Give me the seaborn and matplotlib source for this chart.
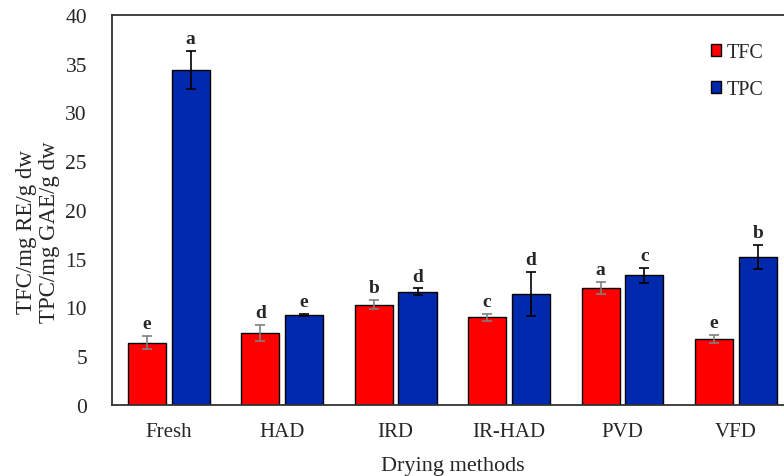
import numpy as np
import matplotlib
matplotlib.use("Agg")
import matplotlib.pyplot as plt
from matplotlib.patches import Patch
import pandas as pd
import seaborn as sns

# data
methods = ["Fresh", "HAD", "IRD", "IR-HAD", "PVD", "VFD"]
tfc = [6.4, 7.4, 10.3, 9.0, 12.0, 6.8]
tpc = [34.4, 9.25, 11.6, 11.4, 13.3, 15.2]
tfc_err = [0.7, 0.8, 0.45, 0.35, 0.6, 0.4]
tpc_err = [1.95, 0.1, 0.35, 2.25, 0.8, 1.2]
tfc_letters = ["e", "d", "b", "c", "a", "e"]
tpc_letters = ["a", "e", "d", "d", "c", "b"]

df = pd.DataFrame({
    "method": methods * 2,
    "series": ["TFC"] * len(methods) + ["TPC"] * len(methods),
    "value": tfc + tpc,
})

sns.set_style("white")
plt.rcParams["font.family"] = ["Liberation Serif", "DejaVu Serif"]

fig = plt.figure(figsize=(7.84, 4.77), dpi=100)
ax = fig.add_axes([112/784, 71/477, 680.7/784, 390/477])

colors = {"TFC": "#ff0000", "TPC": "#0029ad"}
sns.barplot(data=df, x="method", y="value", hue="series", palette=colors,
            saturation=1, errorbar=None, width=0.772, gap=0.13,
            edgecolor="black", linewidth=1.0, ax=ax, legend=False)

errs = [tfc_err, tpc_err]
letters = [tfc_letters, tpc_letters]
ecols = ["#7f7f7f", "black"]
bar_conts = list(ax.containers)
for k, cont in enumerate(bar_conts):
    for i, bar in enumerate(cont.patches):
        xc = bar.get_x() + bar.get_width() / 2
        h = bar.get_height()
        e = errs[k][i]
        ax.errorbar(xc, h, yerr=e, fmt="none", ecolor=ecols[k],
                    elinewidth=1.2, capsize=3.4, capthick=1.2, zorder=5)
        ax.text(xc, h + e + 0.4, letters[k][i], ha="center", va="bottom",
                fontsize=14, fontweight="bold")

ax.set_xlim(-0.5, 5.5)
ax.set_ylim(0, 40)
ax.set_yticks(range(0, 41, 5))
ax.tick_params(axis="both", length=0)
ax.tick_params(axis="y", pad=18, labelsize=15.5)
ax.tick_params(axis="x", pad=12, labelsize=15)
ax.set_xlabel("Drying methods", fontsize=16, labelpad=11)
ax.set_ylabel("")
for s in ax.spines.values():
    s.set_color("#333333")
    s.set_linewidth(1.3)

fig.text(38/784, 1 - 232/477, "TFC/mg RE/g dw\nTPC/mg GAE/g dw", rotation=90,
         ha="center", va="center", multialignment="center", fontsize=16.5,
         linespacing=1.1)

handles = [Patch(facecolor=colors[s], edgecolor="black", linewidth=1.0, label=s)
           for s in ["TFC", "TPC"]]
ax.legend(handles=handles, loc="upper right", bbox_to_anchor=(774/784, 1 - 34/477),
          bbox_transform=fig.transFigure, frameon=False, fontsize=14.5,
          handlelength=0.5, handleheight=0.5, handletextpad=0.3,
          labelspacing=0.9, borderpad=0)

fig.savefig("out.png", dpi=100)
